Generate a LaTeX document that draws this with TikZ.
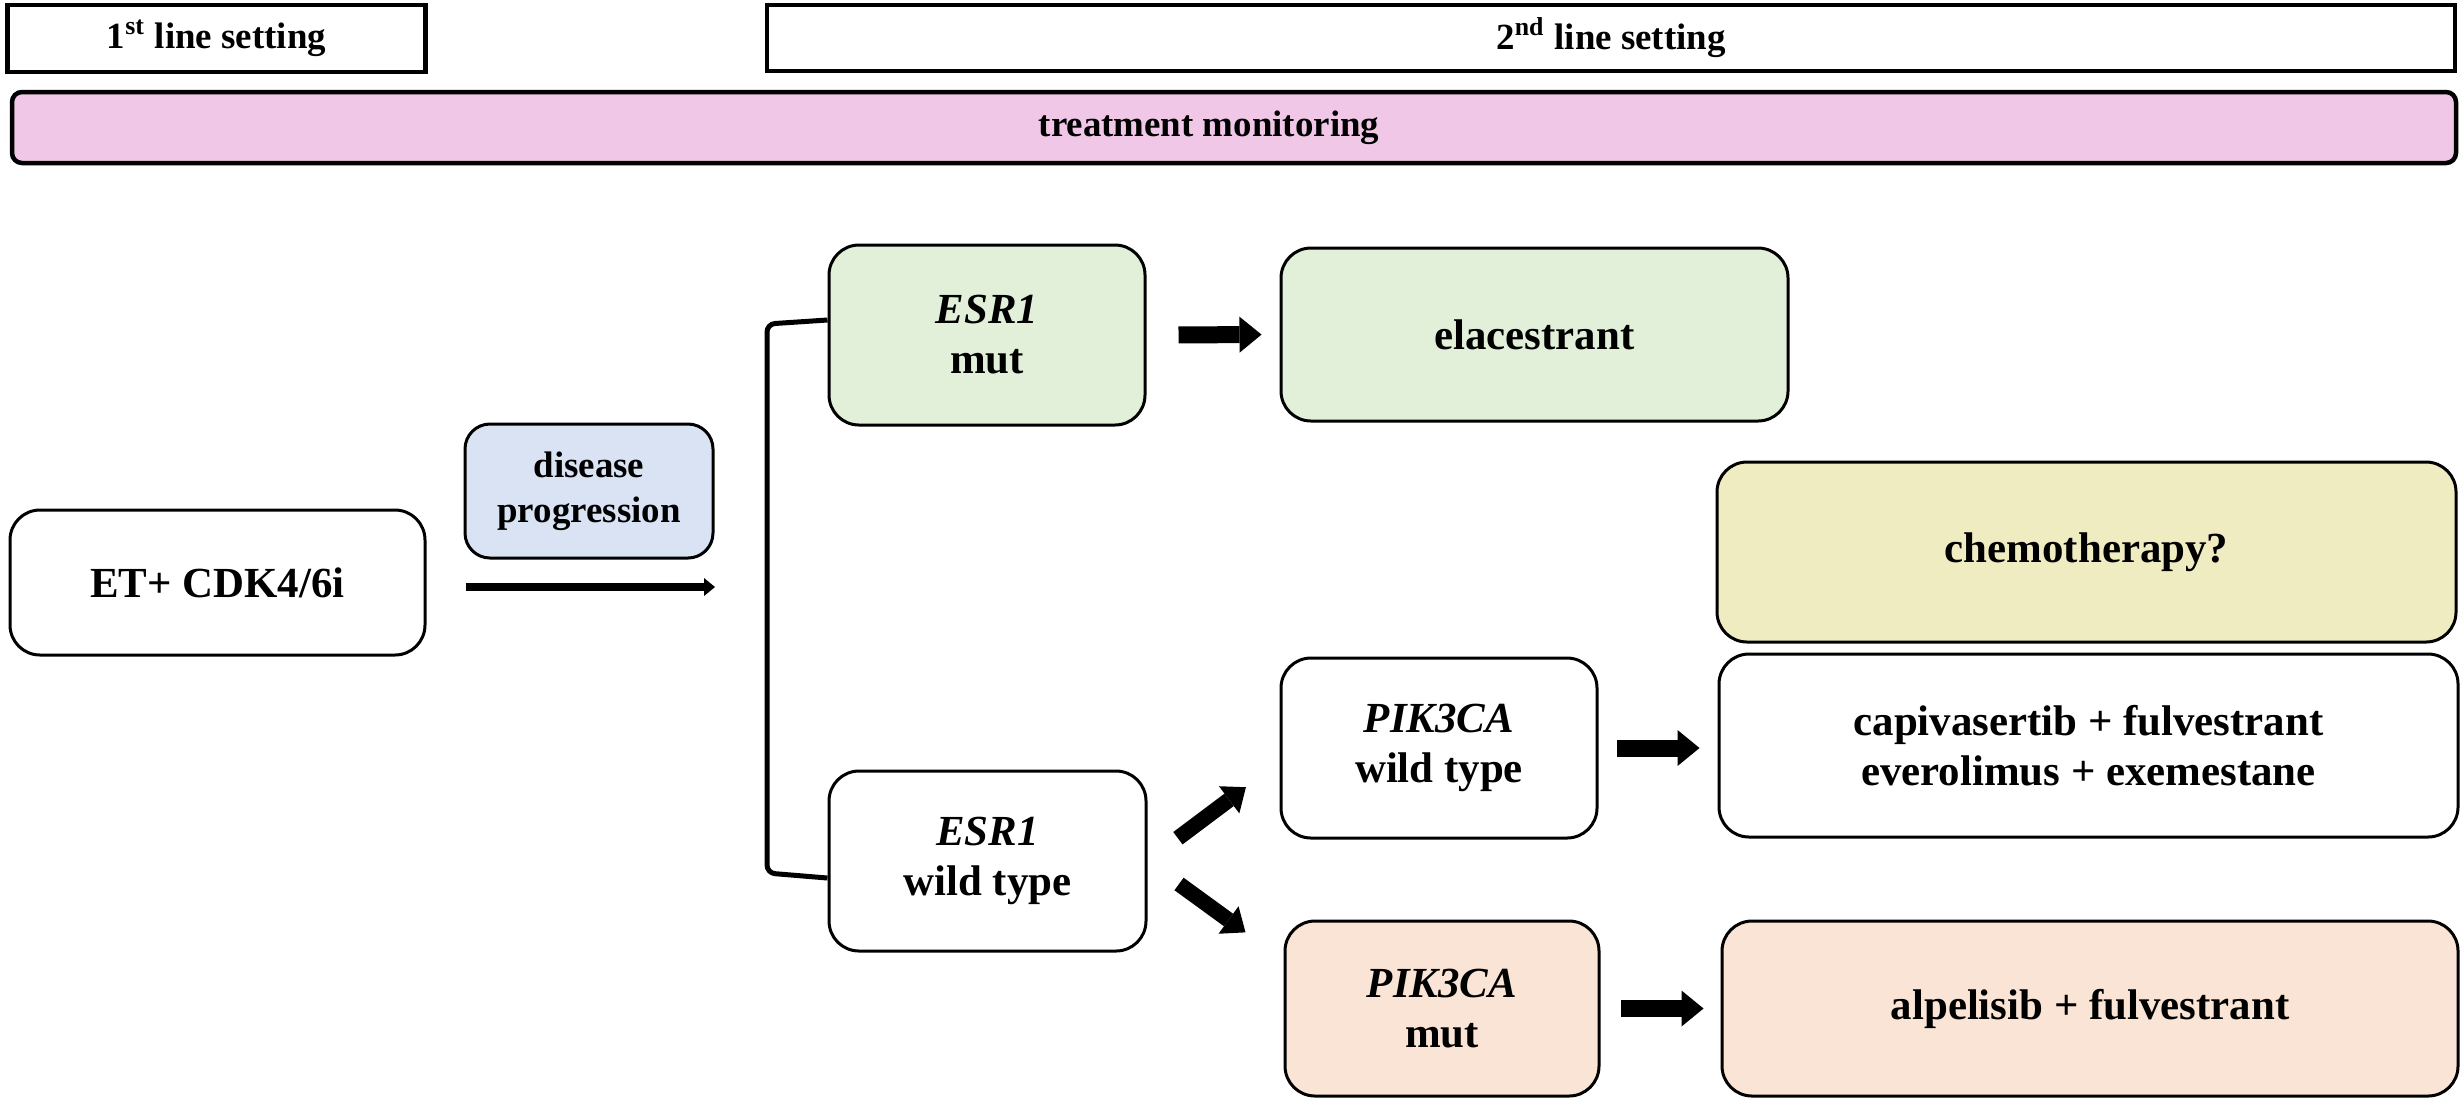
\documentclass[tikz,border=0pt]{standalone}
\usepackage{fontspec}
\setmainfont{Liberation Serif}
\usetikzlibrary{arrows.meta,calc}

\begin{document}
\begin{tikzpicture}[x=0.1mm,y=-0.1mm,
  box/.style={draw=black,line width=0.3mm,rounded corners=3mm,align=center,inner sep=0pt,
    font=\fontsize{12.2}{14.2}\selectfont\bfseries},
  header/.style={draw=black,line width=0.45mm,inner sep=0pt,
    font=\fontsize{10.5}{12.6}\selectfont\bfseries},
  fatarrow/.style={line width=1.7mm,-{Triangle[length=2.2mm,width=3.6mm,line width=0pt]}},
  diagarrow/.style={line width=1.55mm,-{Triangle[length=2.1mm,width=3.4mm,line width=0pt]}},
  thinarrow/.style={line width=0.8mm,-{Triangle[length=1.1mm,width=1.8mm,line width=0pt]}},
  bracket/.style={line width=0.5mm,rounded corners=0.8mm}]
  \definecolor{kPink}{RGB}{240,199,231}
  \definecolor{kBlue}{RGB}{218,227,243}
  \definecolor{kGreen}{RGB}{226,240,217}
  \definecolor{kYellow}{RGB}{240,236,194}
  \definecolor{kSalmon}{RGB}{250,228,214}

  \useasboundingbox (0,0) rectangle (2461,1098);

  \node[header,minimum width=41.8mm,minimum height=6.7mm] (first) at (216.5,38.5) {1\textsuperscript{st} line setting};
  \node[header,minimum width=168.8mm,minimum height=6.6mm] (second) at (1611,38) {2\textsuperscript{nd} line setting};
  \node[header,fill=kPink,rounded corners=1mm,minimum width=244.4mm,minimum height=7.1mm] (monitor) at (1234,127.5) {treatment monitoring\hspace*{5mm}};

  \node[box,minimum width=41.5mm,minimum height=14.5mm] (et) at (217.5,582.5) {ET+ CDK4/6i};
  \node[box,fill=kBlue,rounded corners=2.5mm,font=\fontsize{10.5}{12.8}\selectfont\bfseries,
    minimum width=24.8mm,minimum height=13.4mm] (prog) at (589,491) {disease\\progression};

  \node[box,fill=kGreen,minimum width=31.6mm,minimum height=18mm] (esrmut) at (987,335) {\textit{ESR1}\\mut};
  \node[box,fill=kGreen,minimum width=50.7mm,minimum height=17.3mm] (elac) at (1534.5,334.5) {elacestrant};
  \node[box,fill=kYellow,minimum width=73.9mm,minimum height=18mm] (chemo) at (2086.5,552) {chemotherapy?};
  \node[box,minimum width=73.9mm,minimum height=18.3mm] (capi) at (2088.5,745.5) {capivasertib + fulvestrant\\everolimus + exemestane};
  \node[box,minimum width=31.7mm,minimum height=18mm] (esrwt) at (987.5,861) {\textit{ESR1}\\wild type};
  \node[box,minimum width=31.6mm,minimum height=18mm] (pikwt) at (1439,748) {\textit{PIK3CA}\\wild type};
  \node[box,fill=kSalmon,minimum width=31.4mm,minimum height=17.5mm] (pikmut) at (1442,1008.5) {\textit{PIK3CA}\\mut};
  \node[box,fill=kSalmon,minimum width=73.6mm,minimum height=17.5mm] (alp) at (2090,1008.5) {alpelisib + fulvestrant};

  \coordinate (progend) at (715,587);
  \coordinate (brtop) at (767,324);
  \coordinate (brbot) at (767,873);

  \draw[thinarrow,shorten <=3.9mm] (et.east |- progend) -- (progend);
  \draw[bracket] ($(esrmut.west)+(0,-15)$) -- (brtop) -- (brbot) -- ($(esrwt.west)+(0,17)$);

  \draw[fatarrow,shorten <=3.2mm,shorten >=1.8mm] (esrmut.east) -- (elac.west);
  \draw[diagarrow,shorten <=3.8mm,shorten >=4.2mm] (esrwt.east) -- ($(pikwt.west)+(0,14)$);
  \draw[diagarrow,shorten <=3.9mm,shorten >=4.7mm] (esrwt.east) -- ($(pikmut.west)+(0,-48.5)$);
  \draw[fatarrow,shorten <=1.8mm,shorten >=1.8mm] (pikwt.east) -- (pikwt.east -| capi.west);
  \draw[fatarrow,shorten <=2mm,shorten >=1.7mm] (pikmut.east) -- (alp.west);

\end{tikzpicture}
\end{document}
